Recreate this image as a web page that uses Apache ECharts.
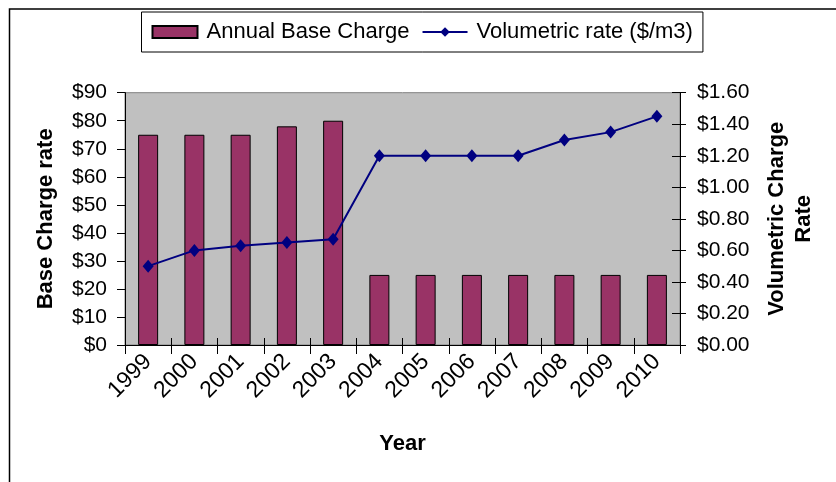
<!DOCTYPE html>
<html>
<head>
<meta charset="utf-8">
<script src="https://cdn.jsdelivr.net/npm/echarts@6/dist/echarts.min.js"></script>
<style>
html,body{margin:0;padding:0;background:#fff;}
#chart{width:836px;height:482px;}
</style>
</head>
<body>
<div id="chart"></div>
<script>
const categories = ['1999','2000','2001','2002','2003','2004','2005','2006','2007','2008','2009','2010'];
const baseCharge = [75, 75, 75, 78, 80, 25, 25, 25, 25, 25, 25, 25];
const volumetricRate = [0.50, 0.60, 0.63, 0.65, 0.67, 1.20, 1.20, 1.20, 1.20, 1.30, 1.35, 1.45];
const seriesNames = ['Annual Base Charge', 'Volumetric rate ($/m3)'];
const axisTitles = { x: 'Year', left: 'Base Charge rate', right: 'Volumetric Charge\nRate' };

const FONT = "'Liberation Sans', Arial, sans-serif";
const chart = echarts.init(document.getElementById('chart'), null, { renderer: 'canvas' });

const option = {
  backgroundColor: '#ffffff',
  animation: false,
  textStyle: { fontFamily: FONT, color: '#000' },
  graphic: [{
    type: 'rect', left: 7, top: 6.5, z: -10,
    shape: { x: 0, y: 0, width: 1000, height: 1000 },
    style: { fill: 'none', stroke: '#000', lineWidth: 1.5 }
  }],
  legend: {
    left: 141.5, top: 12,
    padding: [9, 10],
    borderColor: '#000', borderWidth: 1,
    itemWidth: 45, itemHeight: 12, itemGap: 12,
    textStyle: { fontFamily: FONT, fontSize: 22, color: '#000', padding: [0, 0, 0, 4] },
    data: [{ name: seriesNames[0], icon: 'rect' }, { name: seriesNames[1] }]
  },
  grid: {
    left: 125, right: 156, top: 92.7, bottom: 137,
    show: true, backgroundColor: '#C0C0C0', borderColor: '#808080', borderWidth: 1
  },
  xAxis: [{
    type: 'category', data: categories, position: 'bottom',
    axisLine: { lineStyle: { color: '#000', width: 1 } },
    axisTick: { show: true, length: 9, lineStyle: { color: '#000' } },
    axisLabel: { rotate: 45, margin: 13, fontSize: 23, fontFamily: FONT, color: '#000' },
    name: axisTitles.x, nameLocation: 'middle', nameGap: 88,
    nameTextStyle: { fontSize: 22, fontWeight: 'bold', fontFamily: FONT, color: '#000' }
  }, {
    type: 'category', data: categories, position: 'bottom',
    axisLine: { show: false },
    axisTick: { show: true, inside: true, length: 7, lineStyle: { color: '#000' } },
    axisLabel: { show: false }
  }],
  yAxis: [{
    type: 'value', position: 'left', min: 0, max: 90, interval: 10,
    axisLine: { show: true, lineStyle: { color: '#000' } },
    axisTick: { show: true, length: 8, lineStyle: { color: '#000' } },
    splitLine: { show: false },
    axisLabel: { margin: 18, fontSize: 21, fontFamily: FONT, color: '#000', formatter: v => '$' + v },
    name: axisTitles.left, nameLocation: 'middle', nameRotate: 90, nameGap: 68,
    nameTextStyle: { fontSize: 22, fontWeight: 'bold', fontFamily: FONT, color: '#000' }
  }, {
    type: 'value', position: 'right', min: 0, max: 1.6, interval: 0.2,
    axisLine: { show: true, lineStyle: { color: '#000' } },
    axisTick: { show: true, length: 6, lineStyle: { color: '#000' } },
    splitLine: { show: false },
    axisLabel: { margin: 17, fontSize: 21, fontFamily: FONT, color: '#000', formatter: v => '$' + v.toFixed(2) },
    name: axisTitles.right, nameLocation: 'middle', nameRotate: 90, nameGap: 83,
    nameTextStyle: { fontSize: 22, fontWeight: 'bold', fontFamily: FONT, color: '#000', lineHeight: 27 }
  }, {
    type: 'value', position: 'right', min: 0, max: 1.6, interval: 0.2,
    axisLine: { show: false },
    axisTick: { show: true, inside: true, length: 8, lineStyle: { color: '#000' } },
    splitLine: { show: false },
    axisLabel: { show: false }
  }],
  series: [{
    name: seriesNames[0], type: 'bar', xAxisIndex: 0, yAxisIndex: 0,
    data: baseCharge, barWidth: 20,
    itemStyle: { color: '#993366', borderColor: '#000', borderWidth: 1 }
  }, {
    name: seriesNames[1], type: 'line', xAxisIndex: 0, yAxisIndex: 1,
    data: volumetricRate,
    symbol: 'diamond', symbolSize: [11, 13],
    lineStyle: { color: '#000080', width: 2 },
    itemStyle: { color: '#000080' }
  }]
};
chart.setOption(option);
</script>
</body>
</html>
